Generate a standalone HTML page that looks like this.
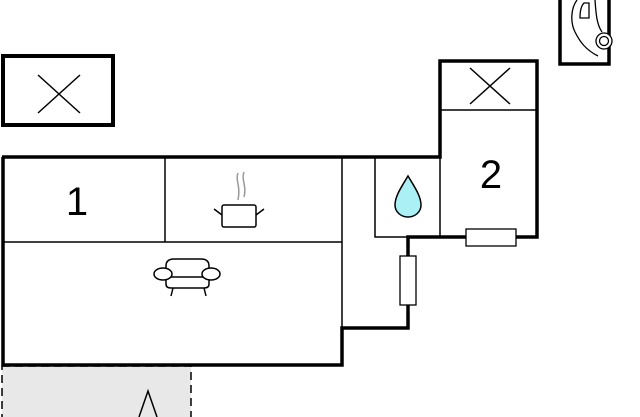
<!DOCTYPE html>
<html><head><style>html,body{margin:0;padding:0;background:#fff;}svg{display:block}</style></head>
<body>
<svg width="640" height="417" viewBox="0 0 640 417" xmlns="http://www.w3.org/2000/svg">
<rect x="0" y="0" width="640" height="417" fill="#fff"/>
<!-- terrace dashed -->
<rect x="2" y="366" width="189" height="60" fill="#e8e8e8" stroke="#000" stroke-width="1.5" stroke-dasharray="8,5"/>
<polyline points="139,417 148,391 157,417" fill="none" stroke="#000" stroke-width="1.5"/>
<!-- top-left X box -->
<rect x="3" y="56" width="110" height="69" fill="#fff" stroke="#000" stroke-width="4"/>
<line x1="38" y1="75" x2="80" y2="113" stroke="#000" stroke-width="1.5"/>
<line x1="80" y1="75" x2="38" y2="113" stroke="#000" stroke-width="1.5"/>
<!-- car box -->
<rect x="560" y="-5" width="49" height="69" fill="#fff" stroke="#000" stroke-width="3.5"/>
<path d="M577,0 C571,8 570,22 575,32 C580,42 586,50 598,56 M595,0 C596,15 597,25 602,32" fill="none" stroke="#000" stroke-width="1.3"/>
<path d="M584,3 L589,3 L589,18 L580,18 C580,12 581,6 584,3 Z" fill="none" stroke="#000" stroke-width="1.3"/>
<circle cx="604" cy="41" r="8" fill="#fff" stroke="#000" stroke-width="1.3"/>
<circle cx="604" cy="41" r="4.5" fill="#fff" stroke="#000" stroke-width="1.3"/>
<!-- thin interior lines -->
<g stroke="#000" stroke-width="1.5" fill="none">
<line x1="165" y1="157" x2="165" y2="242"/>
<line x1="2" y1="242" x2="342" y2="242"/>
<line x1="342" y1="157" x2="342" y2="328"/>
<polyline points="375,157 375,237 408,237"/>
<line x1="440" y1="157" x2="440" y2="237"/>
<line x1="440" y1="110" x2="537" y2="110"/>
<line x1="470" y1="68" x2="510" y2="104"/>
<line x1="510" y1="68" x2="470" y2="104"/>
</g>
<!-- thick walls -->
<g stroke="#000" stroke-width="3.5" fill="none" stroke-linejoin="miter">
<polyline points="3,157 3,365 342,365 342,328 408,328 408,237 537,237 537,61 440,61 440,157 2,157"/>
</g>
<!-- windows -->
<rect x="400" y="256" width="16" height="49" fill="#fff" stroke="#000" stroke-width="1.3"/>
<rect x="466" y="229" width="50" height="17" fill="#fff" stroke="#000" stroke-width="1.3"/>
<!-- labels -->
<text x="77" y="215" font-family="Liberation Sans, sans-serif" font-size="40" text-anchor="middle">1</text>
<text x="491" y="188" font-family="Liberation Sans, sans-serif" font-size="40" text-anchor="middle">2</text>
<!-- pot -->
<g stroke="#000" stroke-width="1.5" fill="none">
<rect x="222" y="205" width="34" height="22" rx="2"/>
<line x1="214" y1="209" x2="222" y2="215"/>
<line x1="264" y1="209" x2="256" y2="215"/>
</g>
<path d="M238,173 C235,180 241,186 238,200 M244,172 C241,180 247,186 244,197" fill="none" stroke="#999" stroke-width="1.5"/>
<!-- sofa -->
<g stroke="#000" stroke-width="1.5" fill="#fff">
<path d="M166,284 L166,266 Q166,259 174,259 L201,259 Q209,259 209,266 L209,284 Q209,288 204,288 L171,288 Q166,288 166,284 Z"/>
<line x1="168" y1="277" x2="207" y2="277"/>
<ellipse cx="163" cy="274" rx="9" ry="6"/>
<ellipse cx="211" cy="274" rx="9" ry="6"/>
<line x1="173" y1="288" x2="171" y2="296"/>
<line x1="204" y1="288" x2="206" y2="296"/>
</g>
<!-- drop -->
<path d="M408,176 C402,186 395,196 395,205 C395,212 401,217 408,217 C415,217 421,212 421,205 C421,196 414,186 408,176 Z" fill="#aaf0f5" stroke="#000" stroke-width="1.5"/>
</svg>
</body></html>
